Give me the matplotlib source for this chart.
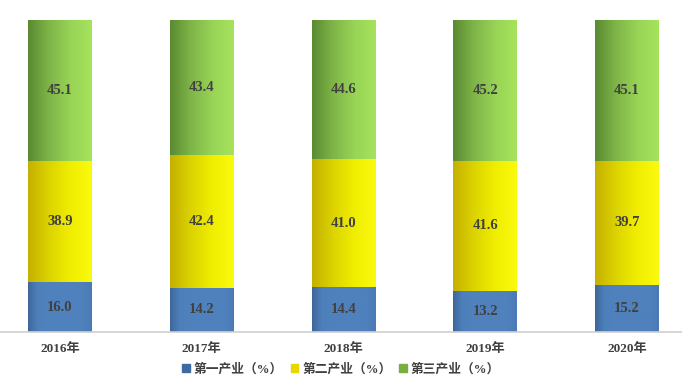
import numpy as np
import matplotlib
matplotlib.use("Agg")
import matplotlib.pyplot as plt
from matplotlib.colors import LinearSegmentedColormap
from matplotlib.patches import Rectangle

plt.rcParams['font.family'] = ['Liberation Serif', 'Noto Sans CJK SC']

years = ['2016年', '2017年', '2018年', '2019年', '2020年']
primary = [16.0, 14.2, 14.4, 13.2, 15.2]
secondary = [38.9, 42.4, 41.0, 41.6, 39.7]
tertiary = [45.1, 43.4, 44.6, 45.2, 45.1]
series_names = ['第一产业（%）', '第二产业（%）', '第三产业（%）']

grad = {
    0: ['#3e6698', '#4d7fbb', '#4f81bd', '#4f81bd', '#4f81bd', '#4f81bd', '#4f81bd', '#4b7bb5'],
    1: ['#c4b000', '#dcd400', '#f0ee00', '#fafa10'],
    2: ['#5a8a32', '#7fb548', '#98d456', '#a6e35c'],
}
cmaps = {k: LinearSegmentedColormap.from_list(f'g{k}', v) for k, v in grad.items()}
flat = ['#4f81bd', '#f2ec00', '#8cc84b']

fig = plt.figure(figsize=(6.82, 3.84), dpi=100)
ax = fig.add_axes([0.0, 52 / 384, 1.0, 312 / 384])

x = np.arange(len(years))
width = 0.45
bottoms = np.zeros(len(years))
gimg = np.linspace(0, 1, 256).reshape(1, -1)

for k, vals in enumerate([primary, secondary, tertiary]):
    bars = ax.bar(x, vals, width, bottom=bottoms, color=flat[k], zorder=1)
    for b, v in zip(bars, vals):
        x0, y0 = b.get_x(), b.get_y()
        w, h = b.get_width(), b.get_height()
        im = ax.imshow(gimg, cmap=cmaps[k], extent=[x0, x0 + w, y0, y0 + h],
                       aspect='auto', zorder=2, interpolation='bilinear')
        im.set_clip_path(b)
        ax.text(x0 + w / 2, y0 + h / 2, f'{v:.1f}', ha='center', va='center',
                fontsize=10.5, fontweight='bold', color='#404040', zorder=5)
    bottoms = bottoms + np.array(vals)

ax.set_xlim(-0.423, 4.388)
ax.set_ylim(0, 100)
for s in ['top', 'right', 'left']:
    ax.spines[s].set_visible(False)
ax.spines['bottom'].set_color('#d0d0d0')
ax.spines['bottom'].set_linewidth(1.2)
ax.set_yticks([])
ax.set_xticks(x)
ax.set_xticklabels(years, fontsize=9.5, fontweight='bold', color='#404040')
ax.tick_params(axis='x', length=0, pad=8)

handles = [Rectangle((0, 0), 1, 1, color=c) for c in ['#3f6aa0', '#e8d800', '#78b040']]
fig.legend(handles, series_names, loc='center', bbox_to_anchor=(0.5, 1 - 369 / 384),
           ncol=3, frameon=False, handlelength=0.6, handleheight=0.6,
           handletextpad=0.3, columnspacing=0.6,
           prop={'size': 9.2, 'weight': 'bold', 'family': ['Liberation Serif', 'Noto Sans CJK SC']},
           labelcolor='#404040')

fig.savefig('out.png', dpi=100)
